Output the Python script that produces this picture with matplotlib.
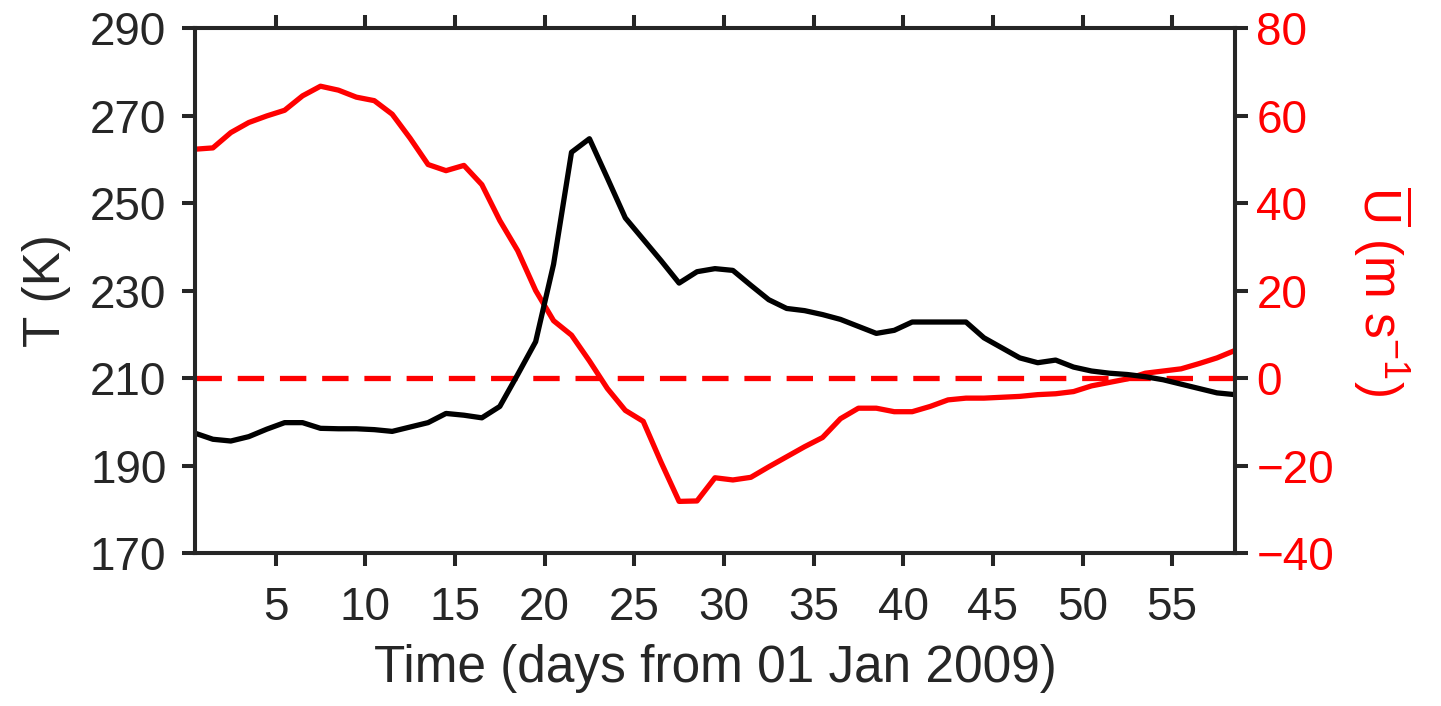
import numpy as np
import matplotlib
matplotlib.use("Agg")
import matplotlib.pyplot as plt

plt.rcParams['font.family'] = ['Liberation Sans', 'DejaVu Sans']
plt.rcParams['mathtext.fontset'] = 'custom'
plt.rcParams['mathtext.rm'] = 'Liberation Sans'
plt.rcParams['mathtext.it'] = 'Liberation Sans:italic'

# daily values, days from 01 Jan 2009
days = np.arange(0.5, 59, 1.0)

temp_k = [197.4, 196.0, 195.6, 196.6, 198.3, 199.8, 199.8, 198.5, 198.4, 198.4,
          198.2, 197.8, 198.8, 199.8, 201.9, 201.5, 200.9, 203.5, 210.8, 218.3,
          236.0, 261.6, 264.7, 255.7, 246.6, 241.7, 236.8, 231.7, 234.3, 235.0,
          234.6, 231.2, 227.9, 225.9, 225.4, 224.5, 223.4, 221.8, 220.2, 220.9,
          222.8, 222.8, 222.8, 222.8, 219.2, 216.9, 214.6, 213.5, 214.1, 212.5,
          211.6, 211.1, 210.8, 210.3, 209.6, 208.6, 207.6, 206.6, 206.2]

u_wind = [52.3, 52.6, 56.1, 58.4, 59.9, 61.2, 64.5, 66.7, 65.8, 64.2,
          63.4, 60.3, 54.8, 48.8, 47.4, 48.6, 44.2, 36.0, 29.1, 20.0,
          13.1, 9.8, 3.9, -2.4, -7.4, -9.9, -19.3, -28.2, -28.1, -22.8,
          -23.3, -22.7, -20.3, -18.0, -15.7, -13.6, -9.3, -6.9, -6.9, -7.7,
          -7.7, -6.5, -5.0, -4.6, -4.6, -4.4, -4.2, -3.8, -3.6, -3.1,
          -1.8, -1.0, -0.2, 1.1, 1.6, 2.1, 3.3, 4.6, 6.3]

t_ticks = [170, 190, 210, 230, 250, 270, 290]
u_ticks = [-40, -20, 0, 20, 40, 60, 80]
x_ticks = [5, 10, 15, 20, 25, 30, 35, 40, 45, 50, 55]

axcol = '#262626'
fs = 33
lfs = 37

fig = plt.figure(figsize=(14.41, 7.06), dpi=100)
ax = fig.add_axes([0.1353, 0.2167, 0.7217, 0.7436])
ax2 = ax.twinx()

ax2.axhline(0, color='red', lw=3.8, dashes=(5.0, 3.0))
ax2.plot(days, u_wind, color='red', lw=3.8)
ax.plot(days, temp_k, color='black', lw=3.8)

# T line on top of the U line
ax.set_zorder(ax2.get_zorder() + 1)
ax.patch.set_visible(False)

ax.set_xlim(0.5, 58.5)
ax.set_ylim(170, 290)
ax2.set_ylim(-40, 80)
ax.set_xticks(x_ticks)
ax.set_yticks(t_ticks)
ax2.set_yticks(u_ticks)

for a in (ax, ax2):
    for s in a.spines.values():
        s.set_color(axcol)
        s.set_linewidth(2.9)

ax.tick_params(axis='both', direction='out', length=9.5, width=2.9, color=axcol,
               labelcolor=axcol, labelsize=fs, top=True)
ax.tick_params(axis='y', pad=11)
ax.tick_params(axis='x', pad=14)
ax2.tick_params(axis='y', direction='out', length=9.5, width=2.9, color=axcol,
                labelcolor='red', labelsize=fs, pad=6)

ax.set_xlabel('Time (days from 01 Jan 2009)', fontsize=lfs, color=axcol, labelpad=10)
ax.set_ylabel('T (K)', fontsize=lfs, color=axcol, labelpad=14)
ax2.set_ylabel(r'$\overline{\mathrm{U}}$ (m s$^{-1}$)', fontsize=lfs, color='red',
               rotation=270, va='bottom', labelpad=12)

fig.savefig('out.png', dpi=100)
